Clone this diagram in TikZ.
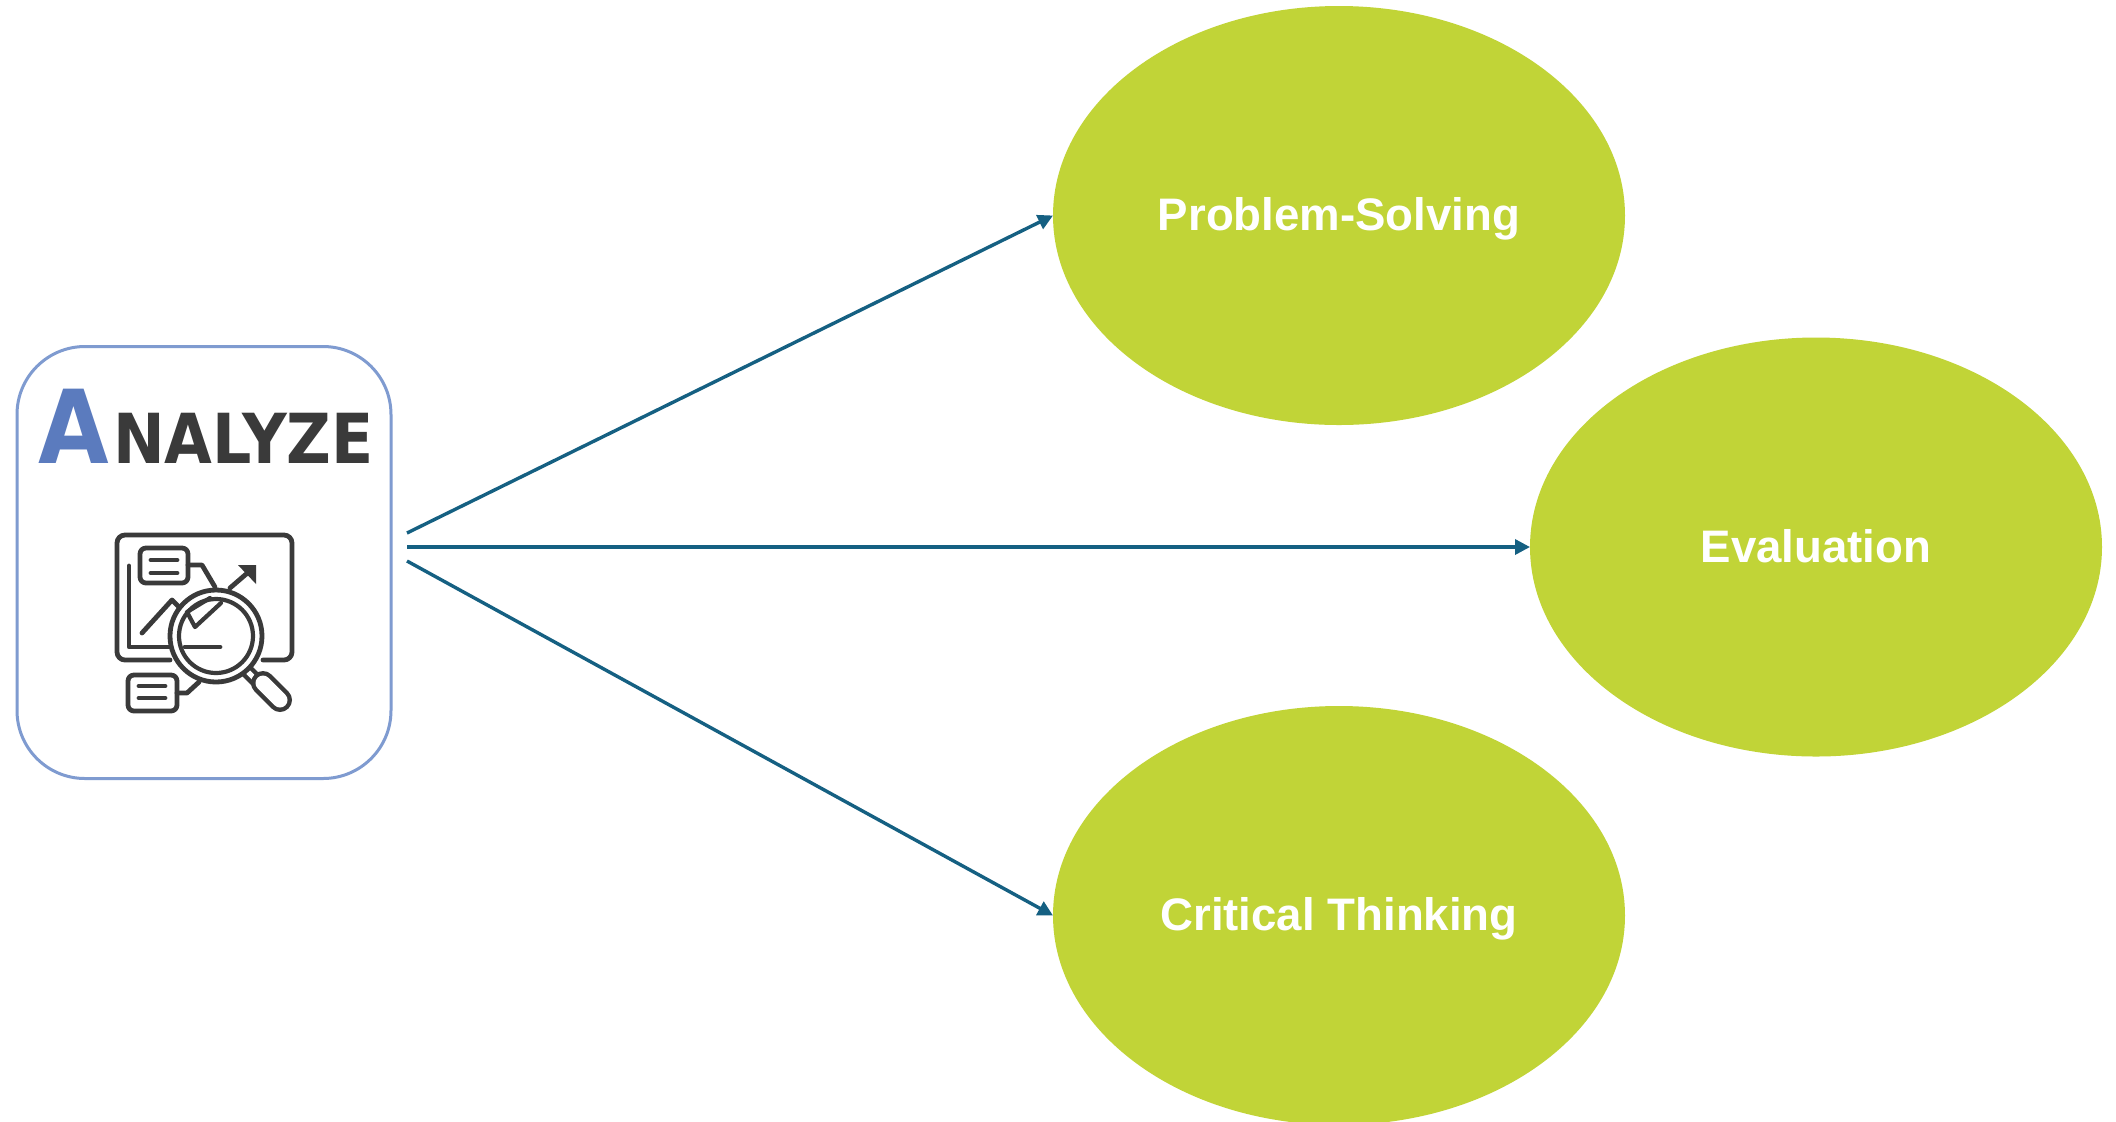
\documentclass[tikz,border=0pt]{standalone}
\usepackage{fontspec}
\setmainfont{Liberation Sans}
\newfontfamily\anl[BoldFeatures={FakeStretch=0.895}]{DejaVu Sans}
\usetikzlibrary{shapes.geometric,arrows.meta}
\definecolor{lime}{HTML}{C1D437}
\definecolor{teal}{HTML}{156082}
\definecolor{frame}{HTML}{7F9BD0}
\definecolor{ablue}{HTML}{5B7BBE}
\definecolor{ink}{HTML}{3A3A3A}
\tikzset{
  bubble/.style={ellipse,fill=lime,draw=none,inner sep=0pt,outer sep=0pt,minimum width=286pt,minimum height=209.5pt,
    text=white,font=\fontsize{22.8pt}{24pt}\selectfont\bfseries,text height=16pt,text depth=1pt},
  card/.style={rectangle,draw=frame,line width=1.5pt,rounded corners=34pt,fill=white,inner sep=0pt,outer sep=0pt,minimum width=187pt,minimum height=216pt},
  link/.style={draw=teal,line width=1.7pt,-{Triangle[length=7.5pt,width=7.5pt]}},
  icon/.style={draw=ink,line width=2.4pt,line cap=round,line join=round},
  thinicon/.style={draw=ink,line width=2.1pt,line cap=round,line join=round},
  wordmark/.style={inner sep=0pt,outer sep=0pt,anchor=base west,font=\anl\bfseries}
}
\begin{document}
\begin{tikzpicture}[x=0.5pt,y=-0.5pt]
\useasboundingbox (0,0) rectangle (2116,1121);
\clip (0,0) rectangle (2116,1121);
\fill[white] (0,0) rectangle (2116,1121);
% nodes
\node[card] (card) at (204,562.5) {};
\node[bubble] (ps) at (1339,215.5) {Problem-Solving};
\node[bubble] (ev) at (1816,547) {Evaluation};
\node[bubble] (ct) at (1339,915.5) {Critical Thinking};
% wordmark
\node[wordmark,text=ablue,font=\anl\bfseries\fontsize{51pt}{51pt}\selectfont] (a) at (39,463) {A};
\node[wordmark,text=ink,font=\anl\bfseries\fontsize{34.5pt}{36pt}\selectfont] (nalyze) at (113,463) {NALYZE};
% connectors
\coordinate (s1) at (407,533);
\coordinate (s2) at (407,547);
\coordinate (s3) at (407,561);
\draw[link] (s1) -- (ps.west);
\draw[link] (s2) -- (ev.west);
\draw[link] (s3) -- (ct.west);
% icon: monitor
\draw[icon,rounded corners=4pt] (170,660) -- (117,660) -- (117,535) -- (292,535) -- (292,660) -- (263,660);
\draw[icon] (129,566) -- (129,647) -- (220,647);
% trend line and arrow
\draw[icon] (142,633) -- (172,600) -- (178,606);
\draw[icon] (230,588) -- (252,569);
\fill[ink] (238,565) -- (256,565) -- (256,584) -- cycle;
% top callout
\draw[icon,rounded corners=3pt] (140,548) rectangle (188,583);
\draw[icon] (151,560) -- (177,560) (151,573) -- (177,573);
\draw[icon] (188,565) -- (202,565) -- (215,587);
% bottom callout
\draw[icon,rounded corners=3pt] (128,675) rectangle (177,711);
\draw[icon] (139,686) -- (165,686) (139,698) -- (165,698);
\draw[icon] (177,693) -- (187,693) -- (199,682);
% magnifier handle
\draw[ink,line width=7pt] (243,667) -- (257,681);
\draw[white,line width=2.5pt] (246,670) -- (254,678);
\draw[ink,line width=12pt,line cap=round] (263,683) -- (280,700);
\draw[white,line width=7.5pt,line cap=round] (263,683) -- (280,700);
% magnifier lens
\fill[white] (216,636) circle[radius=47];
\draw[icon] (216,636) circle[radius=46];
\draw[thinicon] (216,636) circle[radius=37];
\draw[icon] (185,647) -- (220,647);
\draw[thinicon] (187,612) -- (195,627) -- (221,603) (187,612) -- (210,598);
\end{tikzpicture}
\end{document}
